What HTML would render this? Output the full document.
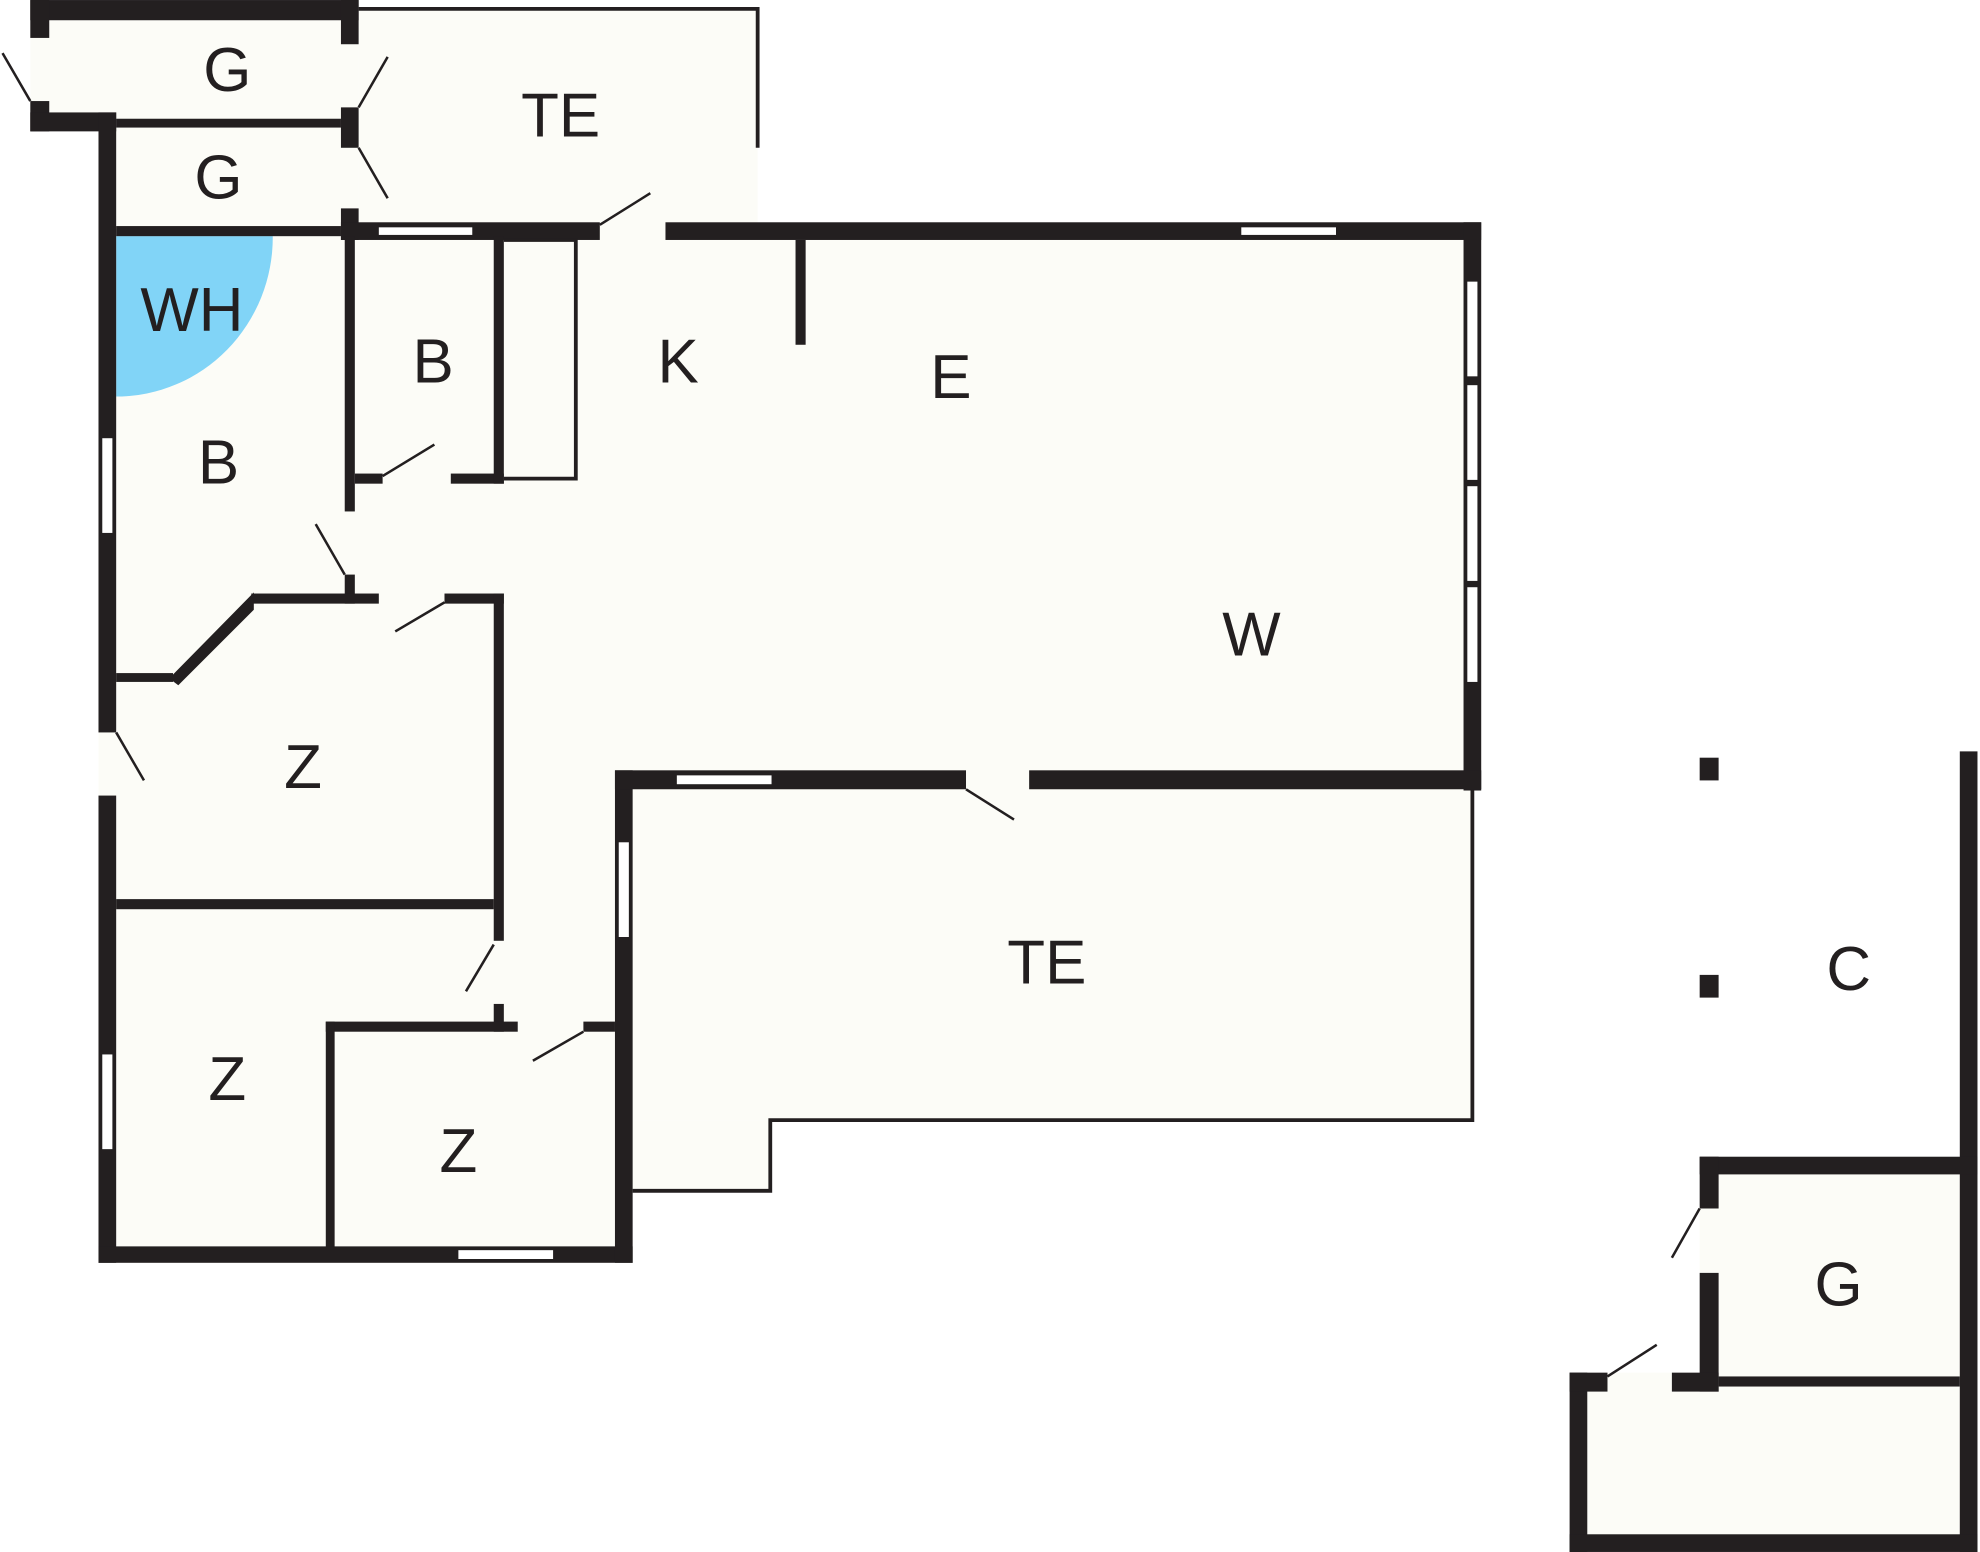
<!DOCTYPE html>
<html><head><meta charset="utf-8"><style>
html,body{margin:0;padding:0;background:#fff;}
svg{display:block;}
text{font-family:"Liberation Sans",sans-serif;font-size:49px;fill:#231f20;text-anchor:middle;}
</style></head><body>
<svg width="1980" height="1552" viewBox="0 0 1568 1229" xmlns="http://www.w3.org/2000/svg">
<g fill="#fcfcf7">
<rect x="24" y="0" width="260" height="104"/>
<rect x="284" y="6" width="316" height="184"/>
<rect x="78" y="89" width="206" height="911"/>
<rect x="270" y="176" width="903" height="450"/>
<rect x="78" y="470" width="423" height="530"/>
<rect x="487" y="610" width="680" height="277"/>
<rect x="487" y="887" width="123" height="56"/>
<rect x="1346" y="916" width="220" height="313"/>
<rect x="1243" y="1087" width="323" height="142"/>
</g>
<path d="M92,187 L216,187 A124,126 0 0 1 92,314 Z" fill="#81d4f7"/>
<g fill="#231f20">
<rect x="24" y="0" width="260" height="16"/>
<rect x="24" y="0" width="15" height="30"/>
<rect x="24" y="80" width="15" height="24"/>
<rect x="24" y="89" width="68" height="15"/>
<rect x="92" y="94" width="178" height="7"/>
<rect x="270" y="0" width="14" height="35"/>
<rect x="270" y="85" width="14" height="32"/>
<rect x="270" y="165" width="14" height="25"/>
<rect x="92" y="179" width="178" height="8"/>
<rect x="270" y="176" width="205" height="14"/>
<rect x="527" y="176" width="646" height="14"/>
<rect x="1159" y="176" width="14" height="450"/>
<rect x="630" y="190" width="8" height="83"/>
<rect x="78" y="89" width="14" height="491"/>
<rect x="78" y="630" width="14" height="370"/>
<rect x="273" y="187" width="8" height="218"/>
<rect x="273" y="455" width="8" height="23"/>
<rect x="281" y="375" width="22" height="8"/>
<rect x="357" y="375" width="42" height="8"/>
<rect x="391" y="187" width="8" height="196"/>
<rect x="199" y="470" width="101" height="8"/>
<rect x="352" y="470" width="47" height="8"/>
<rect x="391" y="470" width="8" height="275"/>
<rect x="391" y="795" width="8" height="22"/>
<rect x="92" y="533" width="45" height="7"/>
<rect x="92" y="712" width="299" height="8"/>
<rect x="258" y="809" width="152" height="8"/>
<rect x="462" y="809" width="25" height="8"/>
<rect x="258" y="809" width="7" height="186"/>
<rect x="78" y="987" width="423" height="13"/>
<rect x="487" y="610" width="14" height="390"/>
<rect x="487" y="610" width="278" height="15"/>
<rect x="815" y="610" width="358" height="15"/>
<rect x="1346" y="600" width="15" height="18"/>
<rect x="1346" y="772" width="15" height="18"/>
<rect x="1552" y="595" width="14" height="634"/>
<rect x="1346" y="916" width="220" height="14"/>
<rect x="1346" y="916" width="15" height="41"/>
<rect x="1346" y="1008" width="15" height="94"/>
<rect x="1361" y="1090" width="191" height="8"/>
<rect x="1243" y="1087" width="14" height="142"/>
<rect x="1243" y="1087" width="30" height="15"/>
<rect x="1324" y="1087" width="37" height="15"/>
<rect x="1243" y="1215" width="323" height="14"/>
</g>
<polygon points="137,537 199,474 199,482 141,540" fill="#231f20" stroke="#231f20" stroke-width="4"/>
<g fill="#fff">
<rect x="300" y="180" width="74" height="6"/>
<rect x="983" y="180" width="75" height="6"/>
<rect x="1162" y="223" width="8" height="75"/>
<rect x="1162" y="305" width="8" height="75"/>
<rect x="1162" y="385" width="8" height="75"/>
<rect x="1162" y="465" width="8" height="75"/>
<rect x="81" y="347" width="8" height="75"/>
<rect x="81" y="835" width="8" height="75"/>
<rect x="363" y="990" width="75" height="7"/>
<rect x="490" y="667" width="8" height="75"/>
<rect x="536" y="614" width="75" height="7"/>
</g>
<g fill="none" stroke="#231f20" stroke-width="3">
<polyline points="284,7 600,7 600,117"/>
<polyline points="399,190 456,190 456,379 399,379"/>
<polyline points="1166,625 1166,887 610,887 610,943 501,943"/>
</g>
<g stroke="#231f20" stroke-width="2">
<line x1="24" y1="80" x2="2" y2="42"/>
<line x1="284" y1="85" x2="307" y2="45"/>
<line x1="284" y1="117" x2="307" y2="157"/>
<line x1="475" y1="178" x2="515" y2="153"/>
<line x1="303" y1="377" x2="344" y2="352"/>
<line x1="273" y1="455" x2="250" y2="415"/>
<line x1="352" y1="477" x2="313" y2="500"/>
<line x1="92" y1="580" x2="114" y2="618"/>
<line x1="391" y1="748" x2="369" y2="785"/>
<line x1="462" y1="817" x2="422" y2="840"/>
<line x1="765" y1="625" x2="803" y2="649"/>
<line x1="1346" y1="957" x2="1324" y2="996"/>
<line x1="1273" y1="1090" x2="1312" y2="1065"/>
</g>
<text x="180" y="72">G</text>
<text x="173" y="157">G</text>
<text x="444" y="108">TE</text>
<text x="152" y="262">WH</text>
<text x="343" y="303">B</text>
<text x="537" y="303">K</text>
<text x="753" y="315">E</text>
<text x="173" y="383">B</text>
<text x="991" y="519">W</text>
<text x="240" y="624">Z</text>
<text x="829" y="779">TE</text>
<text x="180" y="871">Z</text>
<text x="363" y="928">Z</text>
<text x="1464" y="784">C</text>
<text x="1456" y="1034">G</text>
</svg>
</body></html>
